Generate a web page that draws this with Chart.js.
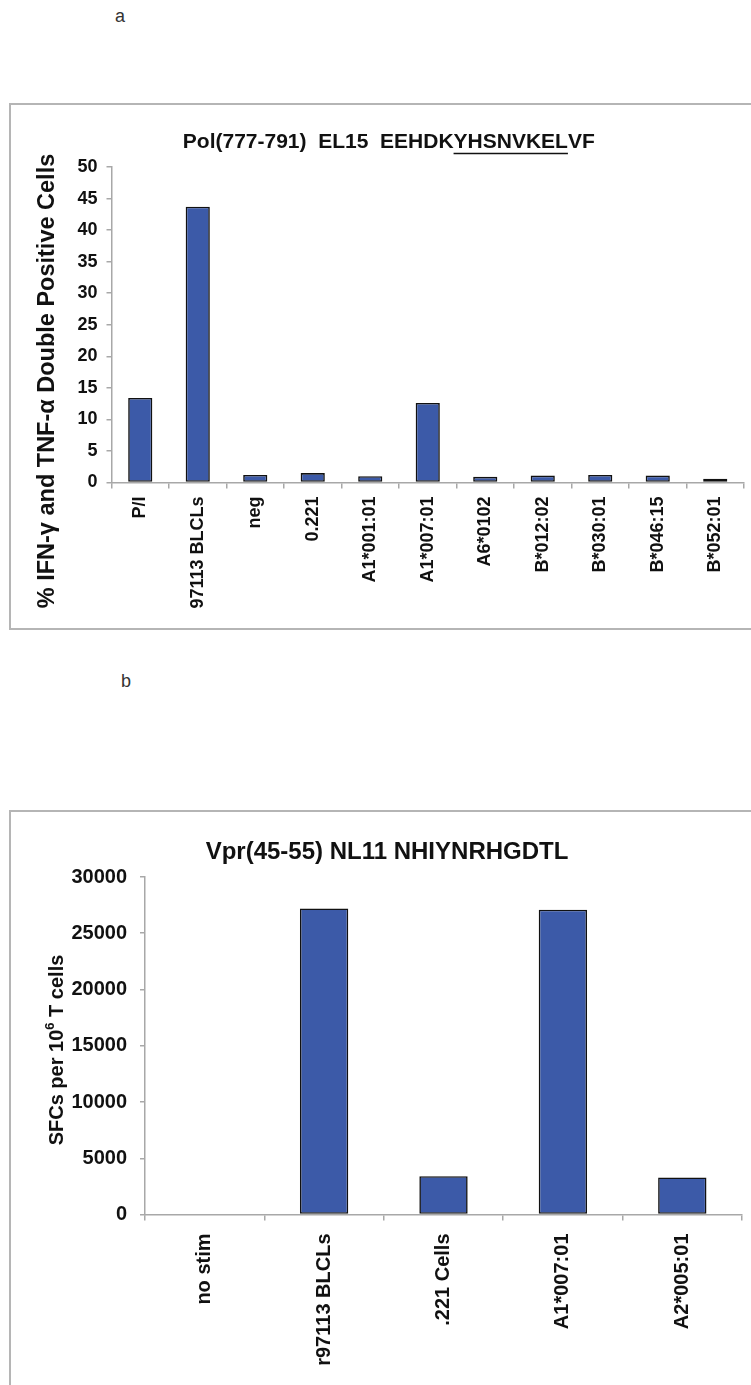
<!DOCTYPE html>
<html>
<head>
<meta charset="utf-8">
<title>Pol EL15 and Vpr NL11 responses</title>
<script src="https://cdn.jsdelivr.net/npm/chart.js@4.4.1/dist/chart.umd.min.js"></script>
<style>
  html, body { margin: 0; padding: 0; background: #fff; }
  body { position: relative; width: 751px; height: 1385px; overflow: hidden;
         font-family: "Liberation Sans", Arial, sans-serif; }
  .frame { position: absolute; border: 2px solid #b5b5b5; box-sizing: border-box; }
  #frameA { left: 9px; top: 103px; width: 800px; height: 527px; }
  #frameB { left: 9px; top: 810px; width: 800px; height: 700px; }
  canvas { position: absolute; left: 0; }
  #chartA { top: 104px; }
  #chartB { top: 811px; }
  .tag { position: absolute; font-size: 18px; color: #333; }
</style>
</head>
<body>
<div class="frame" id="frameA"></div>
<div class="frame" id="frameB"></div>
<div class="tag" style="left:115px;top:6px;">a</div>
<div class="tag" style="left:121px;top:671px;">b</div>
<canvas id="chartA" width="751" height="524"></canvas>
<canvas id="chartB" width="751" height="574"></canvas>
<script>
// Panel a: intracellular cytokine staining, Pol(777-791) EL15
const polCategories = ['P/I', '97113 BLCLs', 'neg', '0.221', 'A1*001:01', 'A1*007:01',
                       'A6*0102', 'B*012:02', 'B*030:01', 'B*046:15', 'B*052:01'];
const polValues = [13.4, 43.7, 1.2, 1.5, 1.0, 12.6, 0.9, 1.1, 1.2, 1.1, 0.6];
const polTicks = [0, 5, 10, 15, 20, 25, 30, 35, 40, 45, 50];

// Panel b: ELISpot, Vpr(45-55) NL11
const vprCategories = ['no stim', 'r97113 BLCLs', '.221 Cells', 'A1*007:01', 'A2*005:01'];
const vprValues = [0, 27200, 3400, 27100, 3300];
const vprTicks = [0, 5000, 10000, 15000, 20000, 25000, 30000];

const BAR_FILL = '#3c5aa8';
const AXIS_GREY = '#a8a8a8';
const FONT = '"Liberation Sans", Arial, sans-serif';

// Draws the panel heading (with an optional underlined run) and the rotated y-axis title.
const panelText = {
  id: 'panelText',
  afterDraw(chart, args, o) {
    const ctx = chart.ctx;
    ctx.save();
    ctx.fillStyle = '#111';
    ctx.strokeStyle = '#111';
    // heading
    ctx.font = 'bold ' + o.titleSize + 'px ' + FONT;
    ctx.textBaseline = 'middle';
    const parts = o.titleParts;
    const full = parts.map(p => p.text).join('');
    let x = o.titleX - ctx.measureText(full).width / 2;
    ctx.textAlign = 'left';
    parts.forEach(p => {
      const w = ctx.measureText(p.text).width;
      ctx.fillText(p.text, x, o.titleY);
      if (p.underline) {
        ctx.lineWidth = 1.6;
        ctx.beginPath();
        const uy = o.titleY + o.titleSize * 0.55;
        ctx.moveTo(x, uy);
        ctx.lineTo(x + w, uy);
        ctx.stroke();
      }
      x += w;
    });
    // y-axis title, rotated to read upwards; pieces may be raised as superscripts
    ctx.translate(o.yTitleX, o.yTitleY);
    ctx.rotate(-Math.PI / 2);
    const size = o.yTitleSize;
    const pieces = o.yTitleParts;
    const widthOf = p => {
      ctx.font = 'bold ' + (p.sup ? Math.round(size * 0.65) : size) + 'px ' + FONT;
      return ctx.measureText(p.text).width;
    };
    const total = pieces.reduce((s, p) => s + widthOf(p), 0);
    let px = -total / 2;
    pieces.forEach(p => {
      const w = widthOf(p);
      ctx.fillText(p.text, px, p.sup ? -size * 0.35 : 0);
      px += w;
    });
    ctx.restore();
  }
};

function barPanel(canvasId, labels, values, ticks, look) {
  const yMax = ticks[ticks.length - 1];
  const step = ticks[1] - ticks[0];
  return new Chart(document.getElementById(canvasId), {
    type: 'bar',
    data: {
      labels: labels,
      datasets: [{
        data: values,
        backgroundColor: BAR_FILL,
        borderColor: '#111',
        borderWidth: 1.6,
        borderSkipped: false,
        barPercentage: look.barFraction,
        categoryPercentage: 1
      }]
    },
    options: {
      responsive: false,
      animation: false,
      devicePixelRatio: 1,
      layout: { padding: { top: look.padTop, right: look.padRight, left: 0, bottom: 0 } },
      plugins: {
        legend: { display: false },
        tooltip: { enabled: false },
        panelText: look.text
      },
      scales: {
        x: {
          afterFit: s => { s.height = look.xAxisHeight; },
          grid: { display: true, drawOnChartArea: false, offset: true, tickLength: 6,
                  color: AXIS_GREY, lineWidth: 1.5 },
          border: { color: AXIS_GREY, width: 1.5 },
          ticks: {
            autoSkip: false, minRotation: 90, maxRotation: 90,
            padding: look.xLabelPad, color: '#111',
            font: { family: FONT, size: look.xLabelSize, weight: 'bold' }
          }
        },
        y: {
          min: 0, max: yMax,
          afterFit: s => { s.width = look.yAxisWidth; },
          afterBuildTicks: s => { s.ticks = ticks.map(v => ({ value: v })); },
          grid: { display: true, drawOnChartArea: false, tickLength: 5,
                  color: AXIS_GREY, lineWidth: 1.5 },
          border: { color: AXIS_GREY, width: 1.5 },
          ticks: {
            stepSize: step, padding: look.yLabelPad, color: '#111',
            callback: v => String(v),
            font: { family: FONT, size: look.yLabelSize, weight: 'bold' }
          }
        }
      }
    },
    plugins: [panelText]
  });
}

barPanel('chartA', polCategories, polValues, polTicks, {
  barFraction: 0.42,
  padTop: 63, padRight: 7,
  yAxisWidth: 111.5, xAxisHeight: 145.5,
  xLabelSize: 18, xLabelPad: 8,
  yLabelSize: 18, yLabelPad: 9,
  text: {
    titleX: 388, titleY: 38, titleSize: 21,
    titleParts: [
      { text: 'Pol(777-791)  EL15  EEHDK' },
      { text: 'YHSNVKEL', underline: true },
      { text: 'VF' }
    ],
    yTitleX: 48, yTitleY: 277, yTitleSize: 23.5,
    yTitleParts: [{ text: '% IFN-\u03b3 and TNF-\u03b1 Double Positive Cells' }]
  }
});

barPanel('chartB', vprCategories, vprValues, vprTicks, {
  barFraction: 0.405,
  padTop: 66, padRight: 9,
  yAxisWidth: 145, xAxisHeight: 170.5,
  xLabelSize: 20, xLabelPad: 13,
  yLabelSize: 20, yLabelPad: 13,
  text: {
    titleX: 387, titleY: 41, titleSize: 24,
    titleParts: [{ text: 'Vpr(45-55) NL11 NHIYNRHGDTL' }],
    yTitleX: 57, yTitleY: 239, yTitleSize: 20,
    yTitleParts: [
      { text: 'SFCs per 10' },
      { text: '6', sup: true },
      { text: ' T cells' }
    ]
  }
});
</script>
</body>
</html>
